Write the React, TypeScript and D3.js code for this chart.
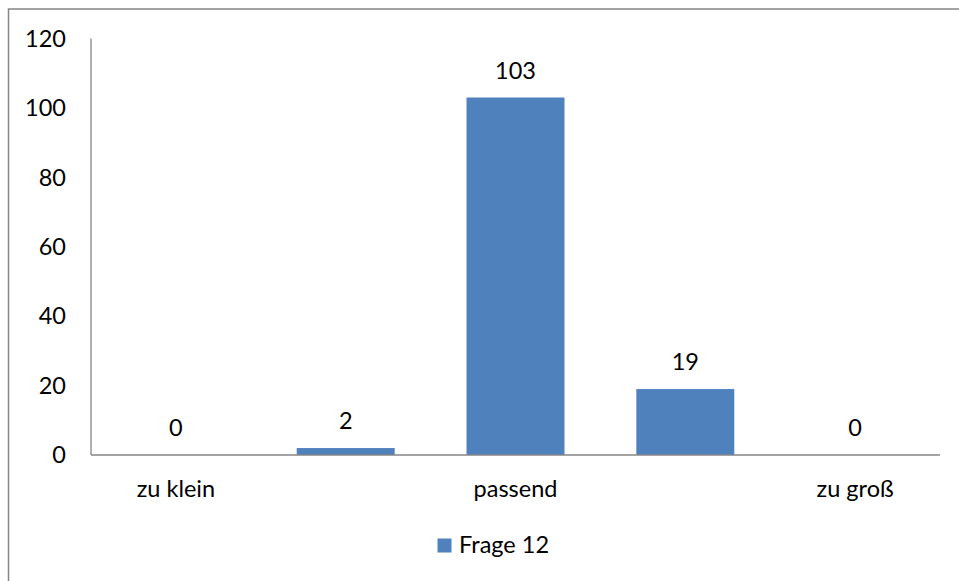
import React from "react";
import * as d3 from "d3";

const categories = ["zu klein", "", "passend", "", "zu groß"];
const values = [0, 2, 103, 19, 0];
const yTicks = [0, 20, 40, 60, 80, 100, 120];
const seriesName = "Frage 12";

const W = 959;
const H = 581;
const FONT = "Lato, 'Open Sans', sans-serif";

export default function App() {
  const x0 = 91;
  const x1 = 940;
  const yTop = 38.5;
  const yBase = 455;
  const x = d3
    .scaleBand<number>()
    .domain(categories.map((_, i) => i))
    .range([x0, x1])
    .paddingInner(0.423)
    .paddingOuter(0.2115);
  const y = d3.scaleLinear().domain([0, 120]).range([yBase, yTop]);
  const color = "#4F81BD";
  const axisColor = "#868686";
  const fs = 23.5;

  return (
    <svg
      width={W}
      height={H}
      style={{ position: "absolute", left: 0, top: 0, background: "#fff" }}
      fontFamily={FONT}
    >
      <rect x={8.5} y={9} width={W + 20} height={H + 20} fill="#fff" stroke={axisColor} strokeWidth={1.5} />
      {/* y axis */}
      <line x1={x0} x2={x0} y1={y(120)} y2={yBase} stroke={axisColor} strokeWidth={1.3} />
      {yTicks.map((t) => (
        <text key={t} x={66} y={y(t)} dy="0.35em" textAnchor="end" fontSize={fs} fill="#000">
          {t}
        </text>
      ))}
      {/* bars */}
      {values.map((v, i) => (
        <rect key={i} x={x(i)} y={y(v)} width={x.bandwidth()} height={yBase - y(v)} fill={color} />
      ))}
      {/* x axis */}
      <line x1={x0} x2={x1} y1={yBase} y2={yBase} stroke={axisColor} strokeWidth={1.3} />
      {/* value labels */}
      {values.map((v, i) => (
        <text
          key={i}
          x={(x(i) as number) + x.bandwidth() / 2}
          y={y(v) - 19}
          textAnchor="middle"
          fontSize={fs}
          fill="#000"
        >
          {v}
        </text>
      ))}
      {/* category labels */}
      {categories.map((c, i) =>
        c ? (
          <text
            key={i}
            x={(x(i) as number) + x.bandwidth() / 2}
            y={497}
            textAnchor="middle"
            fontSize={fs}
            fill="#000"
          >
            {c}
          </text>
        ) : null
      )}
      {/* legend */}
      <rect x={437.5} y={538.5} width={14} height={14} fill={color} />
      <text x={459} y={553} fontSize={fs} fill="#000">
        {seriesName}
      </text>
    </svg>
  );
}
